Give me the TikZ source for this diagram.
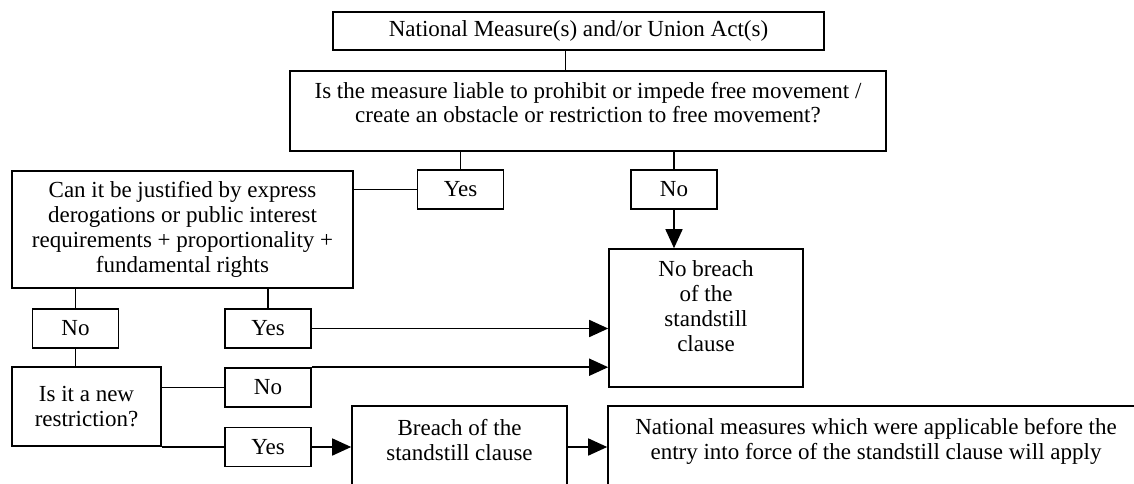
\documentclass[tikz,border=0pt]{standalone}
\usepackage{fontspec}
\setmainfont{Liberation Serif}
\usetikzlibrary{arrows.meta}
\newcommand{\toptext}[4]{\parbox[c][#2][t]{#1}{\centering\rule{0pt}{#3}#4}}
\tikzset{ %
  ,>={Triangle[length=19pt,width=17pt]}
  ,every node/.style={font=\fontsize{23}{25}\selectfont}
  ,block/.style={draw, line width=1.6pt, inner sep=0, align=center}
  ,answer/.style={block, minimum width=86pt, minimum height=39pt}
  ,link/.style={line width=1.6pt}
}
\begin{document}
\begin{tikzpicture}[x=1pt,y=1pt]
    \useasboundingbox (0,0) rectangle (1134,-484);
    \clip (0,0) rectangle (1134,-484);
    \draw
    node[block, minimum width=491pt, minimum height=38pt] (acts) at (578.5,-31) {National Measure(s) and/or Union Act(s)}
    node[block] (liable) at (588,-111) {\toptext{596pt}{80pt}{27pt}{Is the measure liable to prohibit or impede free movement /\\ create an obstacle or restriction to free movement?}}
    node[answer] (yesA) at (460.5,-189.5) {Yes}
    node[answer] (noA) at (674,-189.5) {No}
    node[block] (nobreach) at (706,-318) {\toptext{194pt}{138pt}{27pt}{No breach\\ of the\\ standstill\\ clause}}
    node[block, minimum width=341pt, minimum height=117pt] (justified) at (182.5,-229.5) {Can it be justified by express\\ derogations or public interest\\ requirements + proportionality +\\ fundamental rights}
    node[answer] (noB) at (75.5,-328.5) {No}
    node[answer] (yesB) at (268,-328.5) {Yes}
    node[block, minimum width=149pt, minimum height=79pt] (newrestr) at (86.5,-406.5) {Is it a new\\ restriction?}
    node[answer] (noC) at (268,-387.5) {No}
    node[answer] (yesC) at (268,-447) {Yes}
    node[block] (breach) at (459.5,-447) {\toptext{215pt}{82pt}{29pt}{Breach of the\\ standstill clause}}
    node[block] (prior) at (876,-447) {\toptext{536pt}{82pt}{28pt}{National measures which were applicable before the\\ entry into force of the standstill clause will apply}};
    % plain joins
    \draw[link] ([xshift=-13pt]acts.south) -- ([xshift=-13pt]acts.south |- liable.north)
      (yesA.north |- liable.south) -- (yesA.north)
      (noA.north |- liable.south) -- (noA.north)
      (yesA.west) -- (yesA.west -| justified.east)
      (noB.north |- justified.south) -- (noB.north)
      (yesB.north |- justified.south) -- (yesB.north)
      (noB.south) -- (noB.south |- newrestr.north)
      (noC.west -| newrestr.east) -- (noC.west)
      (yesC.west -| newrestr.east) -- (yesC.west);
    % arrows
    \draw[link, ->] (noA.south) -- (noA.south |- nobreach.north);
    \draw[link, ->] (yesB.east) -- (yesB.east -| nobreach.west);
    \draw[link, ->] (noC.north east) -- (noC.north east -| nobreach.west);
    \draw[link, ->] (yesC.east) -- (breach.west);
    \draw[link, ->] (breach.east) -- (prior.west);
\end{tikzpicture}
\end{document}
